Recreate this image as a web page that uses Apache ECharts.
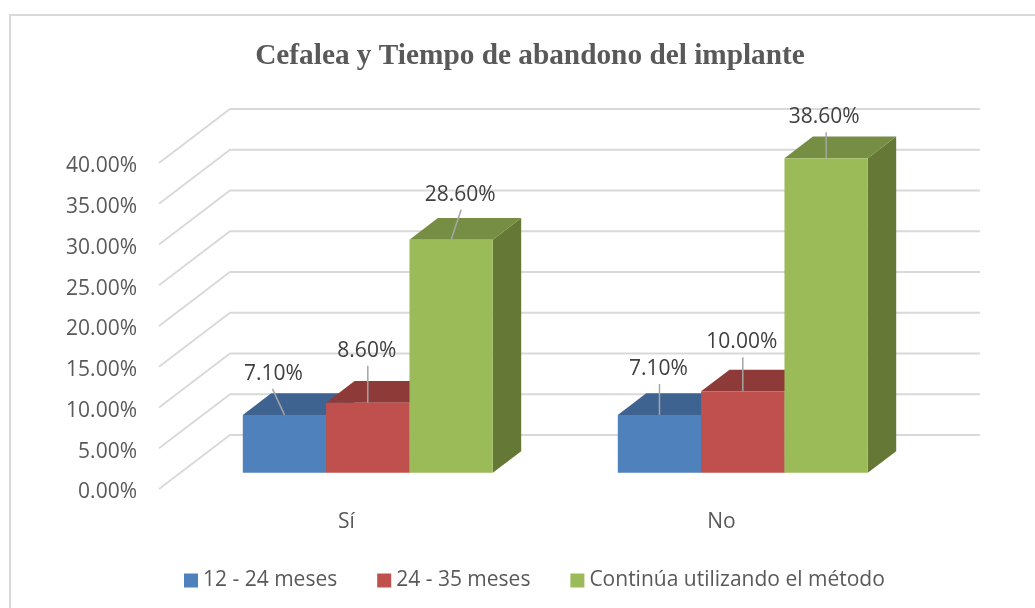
<!DOCTYPE html>
<html>
<head>
<meta charset="utf-8">
<style>
  html, body { margin: 0; padding: 0; background: #fff; }
  #chart { width: 1035px; height: 608px; }
</style>
<script src="https://cdn.jsdelivr.net/npm/echarts@6/dist/echarts.min.js"></script>
</head>
<body>
<div id="chart"></div>
<script>
var titleText = "Cefalea y Tiempo de abandono del implante";
var categories = ["Sí", "No"];
var tiempo1 = [7.1, 7.1];
var tiempo2 = [8.6, 10.0];
var tiempo3 = [28.6, 38.6];
var seriesNames = ["12 - 24 meses", "24 - 35 meses", "Continúa utilizando el método"];
var ticks = [0, 5, 10, 15, 20, 25, 30, 35, 40];

// 3d look: depth of the floor, in pixels
var depthX = 71, depthY = 54;
var barInset = 0.3, barDepth = 0.4, barShare = 250 / 3 / 375;
var faces = [
  { front: "#4F81BD", top: "#3E6391", side: "#3A5F8C" },
  { front: "#C0504D", top: "#8E3A38", side: "#853634" },
  { front: "#9BBB59", top: "#768E44", side: "#657835" }
];
// label against its bar, per series then category: [text dx, text dy, leader dx]
var labelPlace = [
  [[-11, -43, -12], [-1, -48, 0]],
  [[-1, -54, 0], [-1, -51, 0]],
  [[9, -47, 10], [-2, -43, 0]]
];

function gridLines(params, api) {
  var v = api.value(0);
  var p = api.coord([0, v]);
  var left = p[0] - api.size([1, 0])[0] / 2;
  var size = api.size([1, 0])[0] * categories.length;
  return {
    type: "polyline",
    shape: { points: [[left, p[1]], [left + depthX, p[1] - depthY], [left + depthX + size, p[1] - depthY]] },
    style: { stroke: "#D9D9D9", lineWidth: 1.8, fill: null }
  };
}

function bar(idx) {
  return function (params, api) {
    var cat = api.value(0), val = api.value(1);
    var band = api.size([1, 0])[0];
    var w = band * barShare;
    var base = api.coord([cat, 0]);
    var top = api.coord([cat, val]);
    var x0 = base[0] - w * 1.5 + idx * w + depthX * barInset;
    var x1 = x0 + w;
    var yb = base[1] - depthY * barInset;
    var yt = top[1] - depthY * barInset;
    var dx = depthX * barDepth, dy = depthY * barDepth;
    var c = faces[idx];
    var place = labelPlace[idx][cat];
    var cx = (x0 + x1) / 2;
    return {
      type: "group",
      children: [
        { type: "polygon", shape: { points: [[x1, yb], [x1 + dx, yb - dy], [x1 + dx, yt - dy], [x1, yt]] }, style: { fill: c.side } },
        { type: "polygon", shape: { points: [[x0, yt], [x0 + dx, yt - dy], [x1 + dx, yt - dy], [x1, yt]] }, style: { fill: c.top } },
        { type: "rect", shape: { x: x0, y: yt, width: w, height: yb - yt }, style: { fill: c.front } },
        { type: "line", z2: 5, shape: { x1: cx, y1: yt, x2: cx + place[2], y2: yt + place[1] + 17 }, style: { stroke: "#A6A6A6", lineWidth: 1.5 } },
        { type: "text", z2: 6, style: { text: val.toFixed(2) + "%", x: cx + place[0], y: yt + place[1] + 2, align: "center", verticalAlign: "middle", fill: "#404040", font: '21px "Open Sans"' } }
      ]
    };
  };
}

function barSeries(idx, values) {
  return {
    name: seriesNames[idx],
    type: "custom",
    coordinateSystem: "cartesian2d",
    renderItem: bar(idx),
    clip: false,
    z: 3 + idx,
    itemStyle: { color: faces[idx].front },
    encode: { x: 0, y: 1 },
    data: values.map(function (v, i) { return [i, v]; })
  };
}

var chart = echarts.init(document.getElementById("chart"));
chart.setOption({
  animation: false,
  backgroundColor: "#fff",
  title: {
    text: titleText,
    left: 525,
    top: 37,
    textAlign: "center",
    textStyle: { fontFamily: "Liberation Serif", fontWeight: "bold", fontSize: 29.3, color: "#595959" }
  },
  graphic: [{
    // frame runs off the right and bottom of the picture
    type: "rect",
    silent: true,
    z: -1,
    shape: { x: 10, y: 15, width: 1100, height: 700 },
    style: { fill: null, stroke: "#D9D9D9", lineWidth: 2 }
  }],
  legend: {
    data: seriesNames,
    left: 179,
    top: 565,
    itemWidth: 14,
    itemHeight: 14,
    itemGap: 40,
    icon: "rect",
    textStyle: { fontFamily: "Open Sans", fontSize: 21, color: "#595959" }
  },
  grid: { left: 159, width: 750, top: 163, height: 326 },
  xAxis: {
    type: "category",
    data: categories,
    axisLine: { show: false },
    axisTick: { show: false },
    axisLabel: { margin: 23, color: "#595959", fontFamily: "Open Sans", fontSize: 21 }
  },
  yAxis: {
    type: "value",
    min: 0,
    max: 40,
    interval: 5,
    splitLine: { show: false },
    axisLine: { show: false },
    axisTick: { show: false },
    axisLabel: {
      margin: 22,
      formatter: function (v) { return "{t|" + v.toFixed(2) + "%}"; },
      rich: {
        // pushes the text down a little from the tick
        t: { color: "#595959", fontFamily: "Open Sans", fontSize: 21, padding: [7, 0, 0, 0] }
      }
    }
  },
  series: [
    {
      type: "custom",
      name: "grid",
      silent: true,
      clip: false,
      z: 1,
      renderItem: gridLines,
      encode: { y: 0 },
      data: ticks.map(function (t) { return [t]; })
    },
    barSeries(0, tiempo1),
    barSeries(1, tiempo2),
    barSeries(2, tiempo3)
  ]
});
</script>
</body>
</html>
